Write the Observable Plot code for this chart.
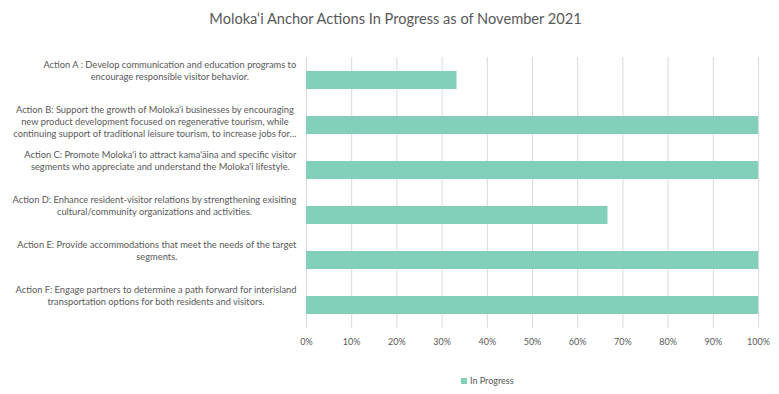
<!DOCTYPE html>
<html><head><meta charset="utf-8">
<script src="https://cdn.jsdelivr.net/npm/d3@7"></script>
<script src="https://cdn.jsdelivr.net/npm/@observablehq/plot@0.6"></script>
<style>
body{margin:0;background:#fff;font-family:Lato,sans-serif;width:779px;height:394px;position:relative;overflow:hidden}
#title{height:36px;line-height:38px;text-align:center;font-size:14.6px;color:#595959;padding-left:12px;box-sizing:border-box}
#legend{position:absolute;left:461px;top:375px;display:flex;align-items:center;font-size:9px;color:#595959}
#legend .sw{width:6px;height:6px;margin-right:3px;display:inline-block}
</style></head><body>
<div id="title">Moloka‘i Anchor Actions In Progress as of November 2021</div>
<div id="chart"></div>
<div id="legend"></div>
<script>
const categories = ["Action A", "Action B", "Action C", "Action D", "Action E", "Action F"];
const labels = [
  "Action A : Develop communication and education programs to\nencourage responsible visitor behavior.",
  "Action B: Support the growth of Moloka‘i businesses by encouraging\nnew product development focused on regenerative tourism, while\ncontinuing support of traditional leisure tourism, to increase jobs for…",
  "Action C: Promote Moloka‘i to attract kama‘āina and specific visitor\nsegments who appreciate and understand the Moloka‘i lifestyle.",
  "Action D: Enhance resident-visitor relations by strengthening exisiting\ncultural/community organizations and activities.",
  "Action E: Provide accommodations that meet the needs of the target\nsegments.",
  "Action F: Engage partners to determine a path forward for interisland\ntransportation options for both residents and visitors."
];
const values = [0.333, 1, 1, 0.667, 1, 1];
const tickValues = [0, 0.1, 0.2, 0.3, 0.4, 0.5, 0.6, 0.7, 0.8, 0.9, 1];
const seriesName = "In Progress";
const barColor = "#82d0b9";

const data = categories.map((c, i) => ({category: c, label: labels[i], value: values[i]}));

const labelSize = 9.3;
const ctx = document.createElement("canvas").getContext("2d");
ctx.font = `${labelSize}px Lato`;
const labelMarks = data.map(d => {
  const w = Math.max(...d.label.split("\n").map(s => ctx.measureText(s).width));
  return Plot.text([d], {
    x: () => 0, y: "category", text: "label",
    textAnchor: "middle", lineAnchor: "top", lineHeight: 1.26,
    dx: -(10 + w / 2), dy: -20.5, fill: "#595959", fontSize: labelSize
  });
});

const chart = Plot.plot({
  width: 779, height: 320,
  marginTop: 21, marginBottom: 28, marginLeft: 306, marginRight: 21,
  style: {fontFamily: "Lato", fontSize: "9px", color: "#595959", background: "#fff"},
  x: {domain: [0, 1], ticks: tickValues, tickFormat: d3.format(".0%"), tickSize: 0, tickPadding: 10, label: null},
  y: {domain: categories, paddingInner: 0.6, paddingOuter: 0.3, axis: null},
  marks: [
    Plot.ruleX(tickValues, {stroke: "#d9d9d9", strokeWidth: 1}),
    Plot.barX(data, {x: "value", y: "category", fill: barColor}),
    ...labelMarks
  ]
});
document.getElementById("chart").appendChild(chart);

const lg = document.getElementById("legend");
lg.innerHTML = `<span class="sw" style="background:${barColor}"></span><span>${seriesName}</span>`;
</script>
</body></html>
